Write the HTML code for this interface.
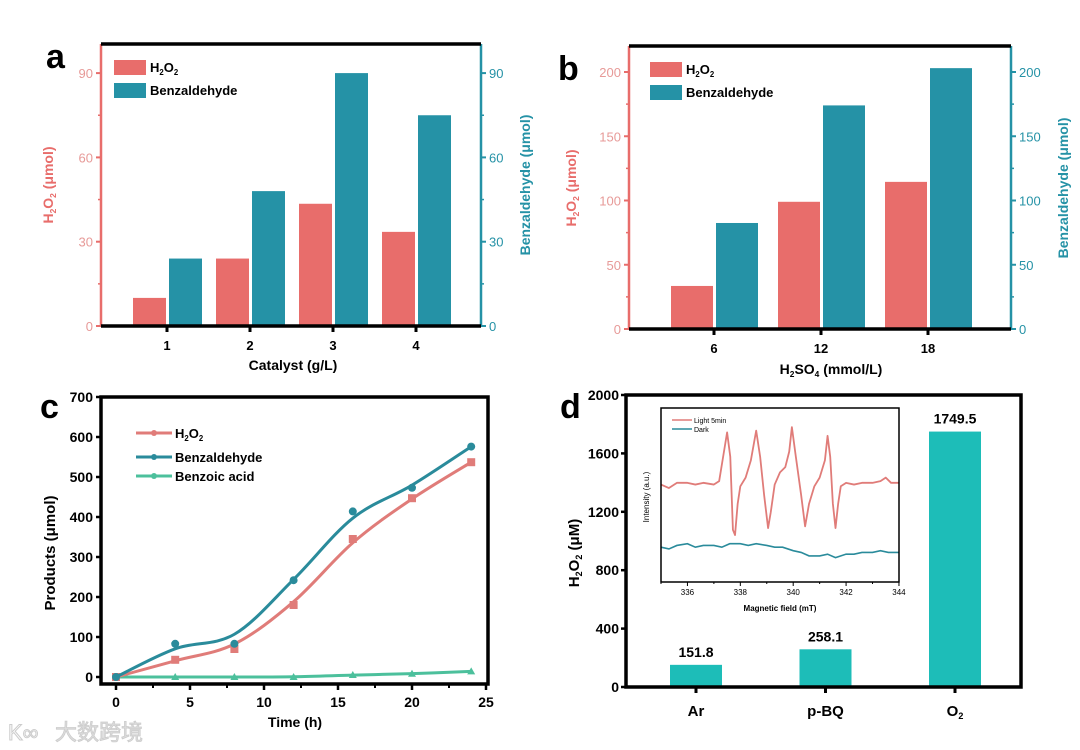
<!DOCTYPE html>
<html><head><meta charset="utf-8"><style>
html,body{margin:0;padding:0;background:#fff;}
svg{display:block;font-family:"Liberation Sans","Noto Sans CJK SC",sans-serif;}
</style></head><body>
<svg id="fig" width="1080" height="750" viewBox="0 0 1080 750">
<text x="55" y="740" font-size="22" fill="#ddd" stroke="#ccc" stroke-width="0.8" font-family="'Noto Sans CJK SC',sans-serif">大数跨境</text>
<text x="8" y="740" font-size="22" fill="none" stroke="#ccc">K∞</text>
</svg>
<script>
const aCats=['1','2','3','4'];
const aH2O2=[10,24,43.5,33.5];
const aBenz=[24,48,90,75];
const aTicks=[0,30,60,90];
const bCats=['6','12','18'];
const bH2O2=[33.5,99,114.5];
const bBenz=[82.5,174,203];
const bTicks=[0,50,100,150,200];
const cTime=[0,4,8,12,16,20,24];
const cH2O2=[0,43,70,180,345,447,537];
const cBenz=[0,83,83,242,414,473,576];
const cAcid=[0,0,0,0,5,8,14];
const cYTicks=[0,100,200,300,400,500,600,700];
const cXTicks=[0,5,10,15,20,25];
const dCats=['Ar','p-BQ','O2'];
const dVals=[151.8,258.1,1749.5];
const dTicks=[0,400,800,1200,1600,2000];
const eprField=[335,335.3,335.6,336,336.3,336.6,337,337.2,337.35,337.5,337.62,337.72,337.8,337.9,338,338.2,338.4,338.6,338.75,338.9,339.05,339.15,339.3,339.5,339.7,339.85,339.95,340.1,340.3,340.45,340.6,340.8,341,341.2,341.3,341.4,341.5,341.6,341.7,341.8,342,342.3,342.6,343,343.3,343.5,343.7,344];
const eprLight=[56,54,57,57,56,57,56,58,72,86,72,30,27,45,55,60,70,87,72,50,31,40,56,63,66,75,89,72,50,32,45,55,60,70,84,72,45,31,45,55,57,56,57,57,58,60,57,57];
const darkField=[335,335.3,335.6,336,336.3,336.6,337,337.3,337.6,338,338.3,338.6,339,339.3,339.6,340,340.3,340.6,341,341.3,341.6,342,342.3,342.6,343,343.3,343.6,344];
const eprDark=[20,19,21,22,20,21,21,20,22,22,21,22,21,20,20,18,17,15,15,16,14,16,16,17,17,18,17,17];
const inXTicks=[336,338,340,342,344];

const NS='http://www.w3.org/2000/svg';
const svg=document.getElementById('fig');
function mk(tag,at,parent){const e=document.createElementNS(NS,tag);for(const k in at)e.setAttribute(k,at[k]);(parent||svg).appendChild(e);return e;}
function txt(x,y,s,at){const e=mk('text',Object.assign({x:x,y:y},at||{}));e.textContent=s;return e;}
function sub(e,parts){e.textContent='';parts.forEach(p=>{const t=document.createElementNS(NS,'tspan');if(p[1]){t.setAttribute('font-size','0.6em');t.setAttribute('dy','3');}else{t.setAttribute('dy',p[2]||'0');}t.textContent=p[0];e.appendChild(t);});}
const RED='#e86d6b',TEAL='#2592a6';

function barPanel(o){
  o.cats.forEach((c,i)=>{
    const cx=o.x(i);
    let r=mk('rect',{x:cx-o.bw-1,y:o.y(o.h[i]),width:o.bw,height:o.y(0)-o.y(o.h[i]),fill:RED});
    
    
    let r2=mk('rect',{x:cx+2,y:o.y(o.b[i]),width:o.bw,height:o.y(0)-o.y(o.b[i]),fill:TEAL});
    
    
    mk('line',{x1:cx,x2:cx,y1:o.bot,y2:o.bot+6,stroke:'#000','stroke-width':3});
    let t=txt(cx,o.bot+24,c,{'font-size':13,'font-weight':'bold','text-anchor':'middle'});
    
    
  });
  mk('line',{x1:o.L,x2:o.L,y1:o.top,y2:o.bot,stroke:RED,'stroke-width':2.5});
  mk('line',{x1:o.R,x2:o.R,y1:o.top,y2:o.bot,stroke:TEAL,'stroke-width':2.5});
  mk('line',{x1:o.L,x2:o.R,y1:o.top,y2:o.top,stroke:'#000','stroke-width':3.5});
  mk('line',{x1:o.L,x2:o.R,y1:o.bot,y2:o.bot,stroke:'#000','stroke-width':3.5});
  o.ticks.forEach((v,i)=>{
    const y=o.y(v);
    mk('line',{x1:o.L-5,x2:o.L,y1:y,y2:y,stroke:RED,'stroke-width':2});
    mk('line',{x1:o.R,x2:o.R+5,y1:y,y2:y,stroke:TEAL,'stroke-width':2});
    let t=txt(o.L-8,y+5,String(v),{'font-size':13,fill:'#e79a98','text-anchor':'end'});
    
    
    let t2=txt(o.R+8,y+5,String(v),{'font-size':13,fill:TEAL});
    
    
    if(i<o.ticks.length-1){const ym=o.y((v+o.ticks[i+1])/2);
      mk('line',{x1:o.L-3,x2:o.L,y1:ym,y2:ym,stroke:RED,'stroke-width':1.5});
      mk('line',{x1:o.R,x2:o.R+3,y1:ym,y2:ym,stroke:TEAL,'stroke-width':1.5});}
  });
  let s1=mk('rect',{x:o.lx,y:o.ly,width:32,height:15,fill:RED});
  
  
  let s2=mk('rect',{x:o.lx,y:o.ly+23,width:32,height:15,fill:TEAL});
  
  
  let l1=txt(o.lx+36,o.ly+12,'',{'font-size':13,'font-weight':'bold'});sub(l1,[['H'],['2',1],['O',0,'-3'],['2',1]]);
  
  
  let l2=txt(o.lx+36,o.ly+35,'Benzaldehyde',{'font-size':13,'font-weight':'bold'});
  
  
  let yl=txt(0,0,'',{'font-size':14,'font-weight':'bold',fill:RED,'text-anchor':'middle',transform:`translate(${o.ytx},${o.tcy}) rotate(-90)`});
  sub(yl,[['H'],['2',1],['O',0,'-3'],['2',1],[' (μmol)',0,'-3']]);
  
  
  let yr=txt(0,0,'Benzaldehyde (μmol)',{'font-size':14,'font-weight':'bold',fill:TEAL,'text-anchor':'middle',transform:`translate(${o.rtx},${o.tcy}) rotate(-90)`});
  
  
  let lt=txt(o.labx,o.laby,o.letter,{'font-size':34,'font-weight':'bold'});
  
  
}
barPanel({cats:aCats,h:aH2O2,b:aBenz,ticks:aTicks,x:i=>167+i*83,y:v=>326-v*2.81,bw:33,L:101,R:481,top:44,bot:326,lx:114,ly:60,ytx:53,rtx:530,tcy:185,labx:46,laby:68,letter:'a'});
barPanel({cats:bCats,h:bH2O2,b:bBenz,ticks:bTicks,x:i=>714+i*107,y:v=>329-v*1.285,bw:42,L:629,R:1011,top:46,bot:329,lx:650,ly:62,ytx:576,rtx:1068,tcy:188,labx:558,laby:80,letter:'b'});
let xa=txt(293,370,'Catalyst (g/L)',{'font-size':14,'font-weight':'bold','text-anchor':'middle'});


let xb=txt(831,374,'',{'font-size':14,'font-weight':'bold','text-anchor':'middle'});sub(xb,[['H'],['2',1],['SO',0,'-3'],['4',1],[' (mmol/L)',0,'-3']]);



// Panel c
const xc=t=>116+t*14.8, yc=v=>677-v*0.4;
function smooth(ys){return ys.map((v,i)=>(i==0||i==ys.length-1)?v:0.15*ys[i-1]+0.7*v+0.15*ys[i+1]);}
function spline(xs,ys,fx,fy){const P=xs.map((x,i)=>[fx(x),fy(ys[i])]);let d=`M${P[0][0]},${P[0][1]}`;
  for(let i=0;i<P.length-1;i++){const p0=P[Math.max(0,i-1)],p1=P[i],p2=P[i+1],p3=P[Math.min(P.length-1,i+2)];
    d+=` C${p1[0]+(p2[0]-p0[0])/6},${p1[1]+(p2[1]-p0[1])/6} ${p2[0]-(p3[0]-p1[0])/6},${p2[1]-(p3[1]-p1[1])/6} ${p2[0]},${p2[1]}`;}return d;}
[[cAcid,'#4cc09c','benzoic-acid','tri'],[cH2O2,'#e07c79','h2o2','sq'],[cBenz,'#2a8b9b','benzaldehyde','dot']].forEach(s=>{
  let p=mk('path',{d:spline(cTime,smooth(s[0]),xc,yc),fill:'none',stroke:s[1],'stroke-width':3});
  
  
  cTime.forEach((t,i)=>{const x=xc(t),y=yc(s[0][i]);let m;
    if(s[3]=='sq')m=mk('rect',{x:x-4,y:y-4,width:8,height:8,fill:s[1]});
    else if(s[3]=='dot')m=mk('circle',{cx:x,cy:y,r:4,fill:s[1]});
    else m=mk('path',{d:`M${x-4},${y+3}L${x+4},${y+3}L${x},${y-4}Z`,fill:s[1]});
    
    });
});
mk('rect',{x:101,y:397,width:387,height:287,fill:'none',stroke:'#000','stroke-width':3.5});
cYTicks.forEach(v=>{const y=yc(v);mk('line',{x1:96,x2:101,y1:y,y2:y,stroke:'#000','stroke-width':2.5});
  let t=txt(93,y+5,String(v),{'font-size':14,'font-weight':'bold','text-anchor':'end'});
  
  });
cXTicks.forEach(v=>{const x=xc(v);mk('line',{x1:x,x2:x,y1:684,y2:690,stroke:'#000','stroke-width':2.5});
  if(v<25)mk('line',{x1:xc(v+2.5),x2:xc(v+2.5),y1:684,y2:688,stroke:'#000','stroke-width':2});
  let t=txt(x,707,String(v),{'font-size':14,'font-weight':'bold','text-anchor':'middle'});
  
  });
[['H2O2','#e07c79',433],['Benzaldehyde','#2a8b9b',457],['Benzoic acid','#4cc09c',476]].forEach(l=>{
  mk('line',{x1:136,x2:172,y1:l[2],y2:l[2],stroke:l[1],'stroke-width':3});
  mk('circle',{cx:154,cy:l[2],r:3,fill:l[1]});
  let t=txt(175,l[2]+5,l[0],{'font-size':13,'font-weight':'bold'});
  if(l[0]=='H2O2')sub(t,[['H'],['2',1],['O',0,'-3'],['2',1]]);
  
  });
let cy=txt(0,0,'Products (μmol)',{'font-size':15,'font-weight':'bold','text-anchor':'middle',transform:'translate(55,553) rotate(-90)'});


let cx=txt(295,727,'Time (h)',{'font-size':14,'font-weight':'bold','text-anchor':'middle'});


let lc=txt(40,418,'c',{'font-size':34,'font-weight':'bold'});



// Panel d
const xd=i=>696+i*129.5, yd=v=>687-v*0.146;
dCats.forEach((c,i)=>{const x=xd(i);
  let r=mk('rect',{x:x-26,y:yd(dVals[i]),width:52,height:yd(0)-yd(dVals[i]),fill:'#1dbdb8'});
  
  
  let v=txt(x,yd(dVals[i])-8,dVals[i].toFixed(1),{'font-size':14,'font-weight':'bold','text-anchor':'middle'});
  
  
  mk('line',{x1:x,x2:x,y1:687,y2:693,stroke:'#000','stroke-width':3});
  let t=txt(x,716,'',{'font-size':15,'font-weight':'bold','text-anchor':'middle'});
  if(c=='O2')sub(t,[['O'],['2',1]]);else t.textContent=c;
  
  });
mk('rect',{x:626,y:395,width:395,height:292,fill:'none',stroke:'#000','stroke-width':3.5});
dTicks.forEach(v=>{const y=yd(v);mk('line',{x1:621,x2:626,y1:y,y2:y,stroke:'#000','stroke-width':2.5});
  let t=txt(619,y+5,String(v),{'font-size':14,'font-weight':'bold','text-anchor':'end'});
  
  });
let dy=txt(0,0,'',{'font-size':15,'font-weight':'bold','text-anchor':'middle',transform:'translate(579,553) rotate(-90)'});
sub(dy,[['H'],['2',1],['O',0,'-3'],['2',1],[' (μM)',0,'-3']]);


let ld=txt(560,418,'d',{'font-size':34,'font-weight':'bold'});


const xi=m=>661+(m-335)*26.44, yi=v=>582-v*1.74;
function poly(xs,ys){return xs.map((x,i)=>(i?'L':'M')+xi(x)+','+yi(ys[i])).join('');}
let pl=mk('path',{d:poly(eprField,eprLight),fill:'none',stroke:'#e07c79','stroke-width':1.8,'stroke-linejoin':'round'});


let pd=mk('path',{d:poly(darkField,eprDark),fill:'none',stroke:'#2a8b9b','stroke-width':1.6});


mk('rect',{x:661,y:408,width:238,height:174,fill:'none',stroke:'#000','stroke-width':1.5});
inXTicks.forEach(m=>{const x=xi(m);mk('line',{x1:x,x2:x,y1:582,y2:586,stroke:'#000','stroke-width':1});
  mk('line',{x1:xi(m-1),x2:xi(m-1),y1:582,y2:584,stroke:'#000','stroke-width':1});
  let t=txt(x,595,String(m),{'font-size':8,'text-anchor':'middle'});
  
  });
let it=txt(780,611,'Magnetic field (mT)',{'font-size':8,'font-weight':'bold','text-anchor':'middle'});


let iy=txt(0,0,'Intensity (a.u.)',{'font-size':8,'text-anchor':'middle',transform:'translate(649,497) rotate(-90)'});


[['Light 5min','#e07c79',420],['Dark','#2a8b9b',429]].forEach(l=>{
  mk('line',{x1:672,x2:692,y1:l[2],y2:l[2],stroke:l[1],'stroke-width':1.6});
  let t=txt(694,l[2]+3,l[0],{'font-size':7});
  
  });
</script>
</body></html>
